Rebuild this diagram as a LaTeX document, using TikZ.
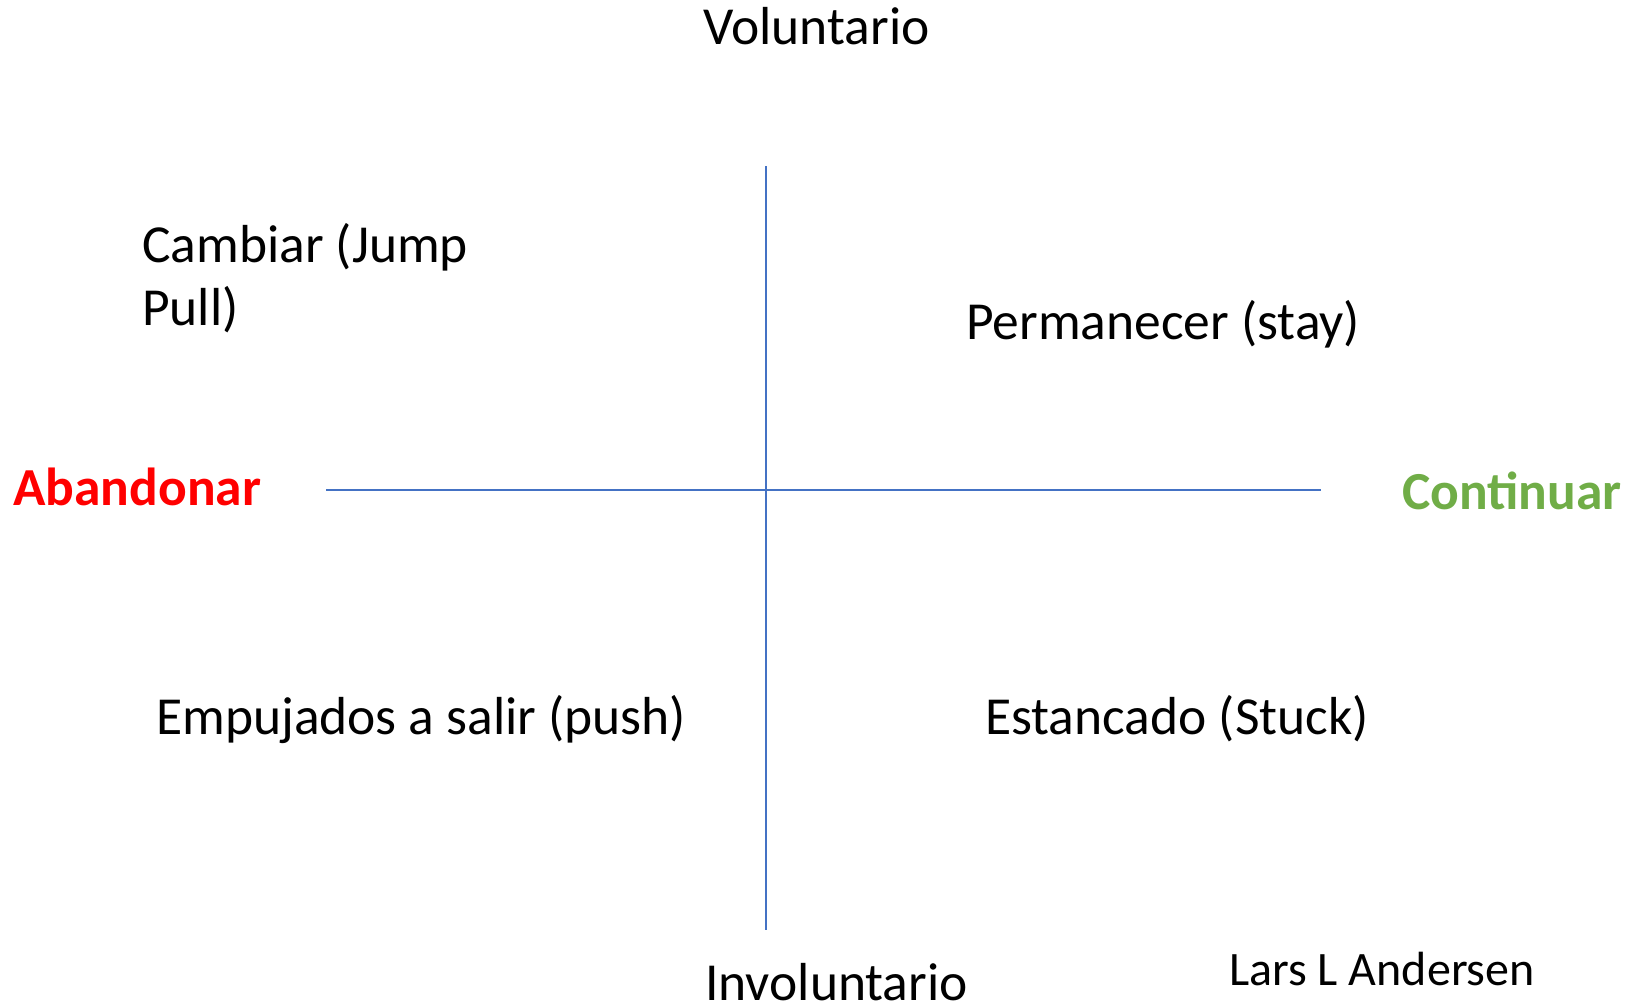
\documentclass[tikz,border=0pt]{standalone}
\usepackage{fontspec}
\setmainfont{Carlito}
\definecolor{axisblue}{HTML}{4472C4}
\definecolor{contgreen}{HTML}{70AD47}
\begin{document}
\begin{tikzpicture}[x=1pt,y=-1pt,
  lbl/.style={inner sep=0pt,anchor=base west,font=\fontsize{53.5}{64}\selectfont},
  boldlbl/.style={lbl,font=\bfseries\fontsize{53.5}{64}\selectfont},
  axisline/.style={draw=axisblue,line width=1.2pt}]
\useasboundingbox (0,0) rectangle (1629,1007);
\coordinate (top) at (766,166);
\coordinate (bot) at (766,930);
\coordinate (lft) at (326,490);
\coordinate (rgt) at (1321,490);
\draw[axisline] (top) -- (bot);
\draw[axisline] (lft) -- (rgt);
\node[lbl] (vol) at (703,44) {Voluntario};
\node[lbl] (camb1) at (142,262) {Cambiar (Jump};
\node[lbl] (camb2) at (142,325) {Pull)};
\node[lbl] (perm) at (966,339) {Permanecer (stay)};
\node[boldlbl,text=red] (aban) at (13,505) {Abandonar};
\node[boldlbl,text=contgreen] (cont) at (1402,509) {Continuar};
\node[lbl] (emp) at (156,734) {Empujados a salir (push)};
\node[lbl] (est) at (985,734) {Estancado (Stuck)};
\node[lbl] (invol) at (705,1000) {Involuntario};
\node[lbl,font=\fontsize{48}{58}\selectfont] (lars) at (1229,985) {Lars L Andersen};
\end{tikzpicture}
\end{document}
